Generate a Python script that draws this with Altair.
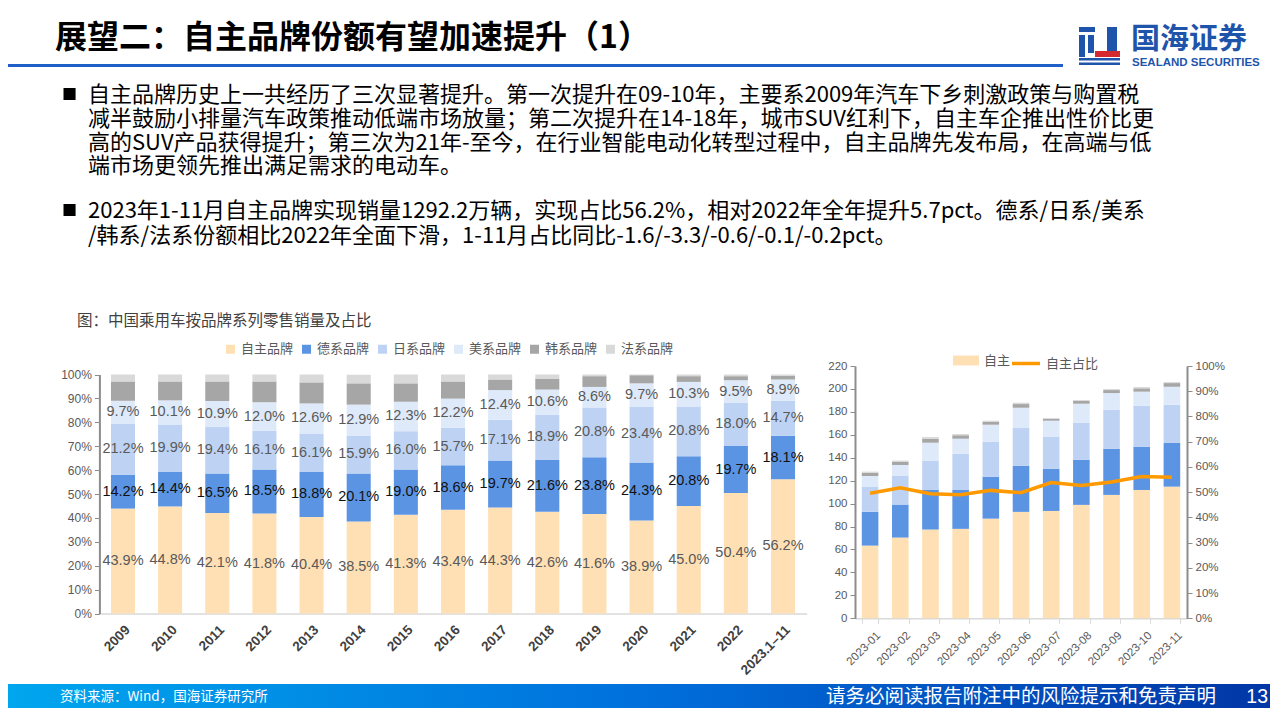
import altair as alt
import pandas as pd

W, H = 1262, 700
CJK = "Noto Sans CJK SC"
LAT = "Liberation Sans"

# ---------------- left chart: share by brand origin (%) ----------------
years = ["2009", "2010", "2011", "2012", "2013", "2014", "2015", "2016",
         "2017", "2018", "2019", "2020", "2021", "2022", "2023.1–11"]
brands = ["自主品牌", "德系品牌", "日系品牌", "美系品牌", "韩系品牌", "法系品牌"]
zizhu = [43.9, 44.8, 42.1, 41.8, 40.4, 38.5, 41.3, 43.4, 44.3, 42.6, 41.6, 38.9, 45.0, 50.4, 56.2]
dexi = [14.2, 14.4, 16.5, 18.5, 18.8, 20.1, 19.0, 18.6, 19.7, 21.6, 23.8, 24.3, 20.8, 19.7, 18.1]
rixi = [21.2, 19.9, 19.4, 16.1, 16.1, 15.9, 16.0, 15.7, 17.1, 18.9, 20.8, 23.4, 20.8, 18.0, 14.7]
meixi = [9.7, 10.1, 10.9, 12.0, 12.6, 12.9, 12.3, 12.2, 12.4, 10.6, 8.6, 9.7, 10.3, 9.5, 8.9]
hanxi = [8.1, 7.9, 8.2, 8.7, 8.8, 8.9, 7.7, 7.2, 4.4, 4.6, 4.5, 3.4, 2.4, 1.7, 1.5]
faxi = [2.9, 2.9, 2.9, 2.9, 3.3, 3.6, 3.7, 2.9, 2.1, 1.7, 0.7, 0.3, 0.7, 0.7, 0.6]
brand_colors = ["#FFE0B4", "#5B94E3", "#BED3F3", "#DEE9F9", "#A6A6A6", "#D9D9D9"]

# ---------------- right chart: monthly retail volume (万辆) ----------------
months = ["2023-01", "2023-02", "2023-03", "2023-04", "2023-05", "2023-06",
          "2023-07", "2023-08", "2023-09", "2023-10", "2023-11"]
m_brands = ["自主", "德系", "日系", "美系", "韩系", "法系"]
m_zizhu = [63.4, 70.4, 77.4, 78.0, 86.9, 92.8, 93.6, 98.9, 107.6, 111.9, 114.8]
m_dexi = [29.4, 28.8, 34.8, 34.2, 36.6, 40.3, 36.9, 39.4, 40.3, 37.8, 38.1]
m_rixi = [21.7, 24.9, 25.3, 31.4, 30.5, 32.8, 27.6, 32.3, 34.0, 35.7, 33.3]
m_meixi = [9.6, 9.6, 15.6, 13.0, 14.8, 17.7, 14.2, 16.5, 14.5, 12.2, 15.7]
m_hanxi = [2.9, 2.6, 3.5, 3.0, 2.4, 3.2, 1.7, 2.4, 2.6, 2.9, 3.2]
m_faxi = [0.9, 1.2, 1.5, 1.1, 1.1, 1.2, 0.7, 0.8, 0.9, 1.2, 0.9]
share = [49.6, 51.7, 49.4, 49.0, 50.7, 49.8, 53.8, 52.6, 54.0, 56.2, 55.9]
share_name = "自主占比"

# ---------------- texts ----------------
title = "展望二：自主品牌份额有望加速提升（1）"
para1 = [
    "自主品牌历史上一共经历了三次显著提升。第一次提升在09-10年，主要系2009年汽车下乡刺激政策与购置税",
    "减半鼓励小排量汽车政策推动低端市场放量；第二次提升在14-18年，城市SUV红利下，自主车企推出性价比更",
    "高的SUV产品获得提升；第三次为21年-至今，在行业智能电动化转型过程中，自主品牌先发布局，在高端与低",
    "端市场更领先推出满足需求的电动车。",
]
para2 = [
    "2023年1-11月自主品牌实现销量1292.2万辆，实现占比56.2%，相对2022年全年提升5.7pct。德系/日系/美系",
    "/韩系/法系份额相比2022年全面下滑，1-11月占比同比-1.6/-3.3/-0.6/-0.1/-0.2pct。",
]
subtitle = "图：中国乘用车按品牌系列零售销量及占比"
source = "资料来源：Wind，国海证券研究所"
disclaimer = "请务必阅读报告附注中的风险提示和免责声明"
page_no = "13"
logo_cn = "国海证券"
logo_en = "SEALAND SECURITIES"

# ---------------- tables ----------------
rows = []
for i, yv in enumerate(years):
    for j, arr in enumerate([zizhu, dexi, rixi, meixi, hanxi, faxi]):
        rows.append({"year": yv, "brand": brands[j], "order": j, "value": arr[i]})
left_df = pd.DataFrame(rows)

rows = []
for i, mv in enumerate(months):
    for j, arr in enumerate([m_zizhu, m_dexi, m_rixi, m_meixi, m_hanxi, m_faxi]):
        rows.append({"month": mv, "brand": m_brands[j], "order": j, "value": arr[i]})
right_df = pd.DataFrame(rows)
line_df = pd.DataFrame({"month": months, "share": share, "series": share_name})

one = pd.DataFrame({"k": [0]})


def txt(s, x, y, size, color="#000000", weight="normal", align="left", font=CJK):
    return alt.Chart(one).mark_text(
        text=s, fontSize=size, color=color, fontWeight=weight, align=align,
        baseline="middle", font=font,
    ).encode(x=alt.value(x), y=alt.value(y))


def box(x0, x1, y0, y1, color):
    return alt.Chart(one).mark_rect(color=color).encode(
        x=alt.value(x0), x2=alt.value(x1), y=alt.value(y0), y2=alt.value(y1)
    )


# ---------------- left chart ----------------
LX0, LX1, LY0, LY1 = 91.4, 798.6, 605.5, 366.5
xL = alt.Scale(domain=years, range=[LX0, LX1], paddingInner=0.49, paddingOuter=0.245)
yL = alt.Scale(domain=[0, 100], range=[LY0, LY1], nice=False, zero=True)

left_bars = alt.Chart(left_df).mark_bar().encode(
    x=alt.X("year:N", scale=xL, axis=alt.Axis(
        title=None, orient="bottom", offset=-(H - LY0), labelAngle=-45,
        labelAlign="right", labelBaseline="top", labelFont=LAT, labelFontSize=13.5,
        labelFontWeight="bold", labelColor="#404040", ticks=False,
        domainColor="#D9D9D9", domainWidth=1.5, labelPadding=9, grid=False)),
    y=alt.Y("value:Q", scale=yL, stack="zero", axis=alt.Axis(
        title=None, orient="left", offset=-LX0, values=list(range(0, 101, 10)),
        labelExpr="datum.value + '%'", labelFont=LAT, labelFontSize=12,
        labelColor="#595959", domainColor="#8C8C8C", domainWidth=2,
        tickColor="#8C8C8C", tickSize=5, labelPadding=3, grid=False)),
    color=alt.Color("brand:N", scale=alt.Scale(domain=brands, range=brand_colors),
                    legend=alt.Legend(
                        title=None, orient="none", legendX=216, legendY=334.5,
                        direction="horizontal", symbolType="square", symbolSize=81,
                        symbolStrokeWidth=0, labelFont=CJK, labelFontSize=13,
                        labelColor="#595959", columnPadding=6, labelOffset=4, padding=0)),
    order=alt.Order("order:Q", sort="ascending"),
)

left_labels = alt.Chart(left_df).transform_stack(
    stack="value", groupby=["year"], as_=["v0", "v1"],
    sort=[alt.SortField(field="order", order="ascending")],
).transform_calculate(
    mid="(datum.v0 + datum.v1) / 2",
    lab="format(datum.value, '.1f') + '%'",
).transform_filter("datum.order < 4").mark_text(
    font=LAT, fontSize=14.5, baseline="middle", align="center"
).encode(
    x=alt.X("year:N", scale=xL, axis=None),
    y=alt.Y("mid:Q", scale=yL, axis=None),
    text="lab:N",
    color=alt.condition("datum.order == 1", alt.value("#111111"), alt.value("#595959")),
)

# ---------------- right chart ----------------
RX0, RX1, RY0, RY1 = 847, 1179, 610.3, 358
xR = alt.Scale(domain=months, range=[RX0, RX1], paddingInner=0.45, paddingOuter=0.225)
yR = alt.Scale(domain=[0, 220], range=[RY0, RY1], nice=False, zero=True)

right_bars = alt.Chart(right_df).mark_bar().encode(
    x=alt.X("month:N", scale=xR, axis=alt.Axis(
        title=None, orient="bottom", offset=-(H - RY0), labelAngle=-45,
        labelAlign="right", labelBaseline="top", labelFont=LAT, labelFontSize=11.5,
        labelColor="#595959", tickBand="extent", tickColor="#D9D9D9", tickSize=5,
        domainColor="#D9D9D9", domainWidth=1.5, labelPadding=6, labelOffset=4, grid=False)),
    y=alt.Y("value:Q", scale=yR, stack="zero", axis=alt.Axis(
        title=None, orient="left", offset=-RX0, values=list(range(0, 221, 20)),
        labelFont=LAT, labelFontSize=11.5, labelColor="#595959",
        domainColor="#8C8C8C", domainWidth=2, tickColor="#8C8C8C", tickSize=5,
        labelPadding=3, grid=False)),
    color=alt.Color("brand:N", scale=alt.Scale(domain=m_brands, range=brand_colors),
                    legend=alt.Legend(
                        title=None, orient="none", legendX=945, legendY=339.5,
                        values=["自主"], symbolType="M-1,-0.38H1V0.38H-1Z",
                        symbolSize=676, symbolStrokeWidth=0, labelFont=CJK,
                        labelFontSize=13, labelColor="#595959", labelOffset=5, padding=0)),
    order=alt.Order("order:Q", sort="ascending"),
)

right_line = alt.Chart(line_df).mark_line(strokeWidth=3.5).encode(
    x=alt.X("month:N", scale=alt.Scale(type="point", domain=months, range=[RX0, RX1], padding=0.5),
            axis=None),
    y=alt.Y("share:Q", scale=alt.Scale(domain=[0, 100], range=[RY0, RY1], nice=False, zero=True),
            axis=alt.Axis(
                title=None, orient="right", offset=-(W - RX1), values=list(range(0, 101, 10)),
                labelExpr="datum.value + '%'", labelFont=LAT, labelFontSize=11.5,
                labelColor="#595959", domainColor="#8C8C8C", domainWidth=2,
                tickColor="#8C8C8C", tickSize=5, labelPadding=3, grid=False)),
    stroke=alt.Stroke("series:N", scale=alt.Scale(domain=[share_name], range=["#FF9900"]),
                      legend=alt.Legend(
                          title=None, orient="none", legendX=1002, legendY=339.5,
                          symbolType="stroke", symbolSize=784, symbolStrokeWidth=3.5,
                          labelFont=CJK, labelFontSize=13, labelColor="#595959",
                          labelOffset=4, padding=0)),
)

# ---------------- slide decorations ----------------
footer_grad = alt.Gradient(
    gradient="linear",
    stops=[alt.GradientStop(color="#00A6EE", offset=0),
           alt.GradientStop(color="#0070DC", offset=0.5),
           alt.GradientStop(color="#0236A6", offset=1)],
    x1=0, x2=1, y1=0, y2=0,
)
footer_band = alt.Chart(one).mark_rect(color=footer_grad).encode(
    x=alt.value(0), x2=alt.value(W), y=alt.value(676), y2=alt.value(H)
)

LOGO_BLUE = "#1F54AB"
LOGO_RED = "#D42A2F"
decor = [
    txt(title, 47, 30, 32, weight="bold"),
    box(0, 1055, 56, 59, "#1E5FC8"),
    # logo icon
    box(1071, 1087, 19, 24, LOGO_BLUE),
    box(1071, 1077, 27, 49, LOGO_BLUE),
    box(1080, 1086, 27, 45, LOGO_BLUE),
    box(1099, 1109, 19, 44, LOGO_BLUE),
    box(1087, 1112, 43, 49, LOGO_RED),
    box(1071, 1112, 50, 52.5, LOGO_BLUE),
    box(1071, 1112, 54.5, 57, LOGO_BLUE),
    txt(logo_cn, 1123, 32, 29, color=LOGO_BLUE, weight="bold"),
    txt(logo_en, 1124, 54.5, 11.5, color=LOGO_BLUE, weight="bold",
        font="Liberation Sans Narrow, Liberation Sans"),
    # bullets + paragraphs
    txt("■", 54, 87, 15),
    txt("■", 54, 203, 15),
]
for k, line in enumerate(para1):
    decor.append(txt(line, 80, 87 + k * 23.8, 22))
for k, line in enumerate(para2):
    decor.append(txt(line, 80, 203 + k * 25, 22))
decor += [
    txt(subtitle, 69, 313, 15.5, color="#404040"),
    footer_band,
    txt(source, 52, 689, 13.5, color="#FFFFFF"),
    txt(disclaimer, 1208, 689, 19.5, color="#FFFFFF", align="right"),
    txt(page_no, 1260, 689, 19.5, color="#FFFFFF", align="right", font=LAT),
]

chart = alt.layer(
    *decor, left_bars, left_labels, right_bars, right_line
).resolve_scale(
    x="independent", y="independent", color="independent", stroke="independent"
).resolve_axis(
    x="independent", y="independent"
).resolve_legend(
    color="independent", stroke="independent"
).properties(
    width=W, height=H, padding=0,
    autosize=alt.AutoSizeParams(type="none"), background="white",
).configure_view(stroke=None)

chart.save("out.html", embed_options={"renderer": "svg", "actions": False})
